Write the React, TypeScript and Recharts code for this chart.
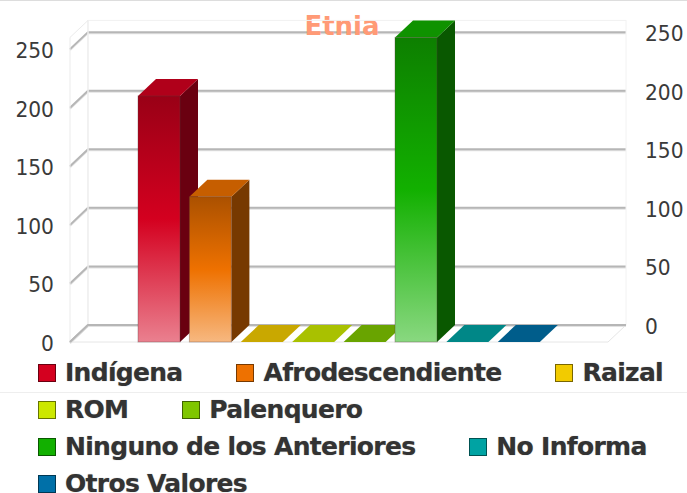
import { ComposedChart, Bar, Line, XAxis, YAxis, CartesianGrid, Legend, ReferenceArea } from 'recharts';

const CATEGORY = 'Etnia';
const SERIES_NAMES = ['Indígena', 'Afrodescendiente', 'Raizal', 'ROM', 'Palenquero', 'Ninguno de los Anteriores', 'No Informa', 'Otros Valores'];
const SERIES_VALUES = [210, 124, 0, 0, 0, 260, 0, 0];
const SERIES_COLORS = ['#d4001f', '#ee7100', '#f2cb00', '#cce800', '#7fc600', '#12b000', '#00a3a3', '#0070a8'];
const TICKS = [0, 50, 100, 150, 200, 250];

const DEPTH_X = 18;
const DEPTH_Y = 17;
const FONT = '"DejaVu Sans", Verdana, sans-serif';

const row: Record<string, string | number> = { name: CATEGORY };
SERIES_NAMES.forEach((name, i) => {
  row[name] = SERIES_VALUES[i];
});
const chartData = [row];

// mix a hex colour towards black (amount < 1) or white (amount > 1)
function shade(hex: string, amount: number) {
  const parts = [1, 3, 5].map((i) => parseInt(hex.slice(i, i + 2), 16));
  const out = parts.map((c) => Math.round(amount <= 1 ? c * amount : c + (255 - c) * (amount - 1)));
  return `rgb(${out[0]},${out[1]},${out[2]})`;
}

function Box3D(props: any) {
  const { x, y, width, height, fill, index } = props;
  const id = `front-${fill.slice(1)}-${index ?? 0}`;
  const right = x + width;
  const bottom = y + height;
  return (
    <g>
      <defs>
        <linearGradient id={id} x1="0" y1="0" x2="0" y2="1">
          <stop offset="0%" stopColor={shade(fill, 0.72)} />
          <stop offset="50%" stopColor={fill} />
          <stop offset="100%" stopColor={shade(fill, 1.5)} />
        </linearGradient>
      </defs>
      {height > 0 && (
        <polygon
          points={`${right},${y} ${right + DEPTH_X},${y - DEPTH_Y} ${right + DEPTH_X},${bottom - DEPTH_Y} ${right},${bottom}`}
          fill={shade(fill, 0.5)}
        />
      )}
      <polygon
        points={`${x},${y} ${x + DEPTH_X},${y - DEPTH_Y} ${right + DEPTH_X},${y - DEPTH_Y} ${right},${y}`}
        fill={shade(fill, 0.83)}
      />
      {height > 0 && (
        <rect x={x} y={y} width={width} height={height} fill={`url(#${id})`} stroke="rgba(90,60,60,0.35)" />
      )}
    </g>
  );
}

function Frame(props: any) {
  const { x, y, width, height } = props;
  const right = x + width;
  const bottom = y + height;
  const floorLine = `${x},${bottom} ${x + DEPTH_X},${bottom - DEPTH_Y} ${right + DEPTH_X},${bottom - DEPTH_Y}`;
  return (
    <g fill="none">
      <rect x={x + DEPTH_X} y={y - DEPTH_Y} width={width} height={height} stroke="#f2f2f2" />
      <polygon
        points={`${x},${y} ${x + DEPTH_X},${y - DEPTH_Y} ${x + DEPTH_X},${bottom - DEPTH_Y} ${x},${bottom}`}
        stroke="#ebebeb"
      />
      <polygon
        points={`${x},${bottom} ${x + DEPTH_X},${bottom - DEPTH_Y} ${right + DEPTH_X},${bottom - DEPTH_Y} ${right},${bottom}`}
        stroke="#e6e6e6"
      />
      {/* the grid leaves out the zero line, so it is drawn with the floor */}
      <polyline points={floorLine} stroke="#e2e2e2" strokeWidth={2} transform="translate(0,1)" />
      <polyline points={floorLine} stroke="#b6b6b6" strokeWidth={2} />
    </g>
  );
}

function GridLine(props: any) {
  const { x1, x2, y1 } = props;
  // the grid also hands us the top edge of the plot, which is not a tick
  if (y1 < 30) return null;
  const points = `${x1},${y1} ${x1 + DEPTH_X},${y1 - DEPTH_Y} ${x2 + DEPTH_X},${y1 - DEPTH_Y}`;
  return (
    <g fill="none">
      <polyline points={points} stroke="#e2e2e2" strokeWidth={2} transform="translate(0,1)" />
      <polyline points={points} stroke="#b6b6b6" strokeWidth={2} />
    </g>
  );
}

// the reference's digits are a little taller than they are wide
function tickText(x: number, y: number, anchor: string, value: number) {
  return (
    <text
      transform={`translate(${x},${y + 9}) scale(0.92,1)`}
      textAnchor={anchor}
      fontSize={22}
      fontFamily={FONT}
      fill="#3a3a3a"
    >
      {value}
    </text>
  );
}

function LeftTick(props: any) {
  return tickText(props.x, props.y, 'end', props.payload.value);
}

function RightTick(props: any) {
  return tickText(props.x, props.y - DEPTH_Y, 'start', props.payload.value);
}

function LegendContent(props: any) {
  // the helper line on the right axis stays out of the legend
  const items = (props.payload || []).filter((item: any) => item.type !== 'none');
  return (
    <div
      style={{
        height: 151,
        boxSizing: 'border-box',
        paddingTop: 12,
        paddingLeft: 38,
        display: 'flex',
        flexWrap: 'wrap',
        alignContent: 'flex-start',
        columnGap: 54,
        fontFamily: FONT,
        fontWeight: 'bold',
        fontSize: 25,
        letterSpacing: -0.7,
        color: '#333',
        textShadow: '0 0 1px #999',
      }}
    >
      {items.map((item: any) => (
        <div key={item.value} style={{ display: 'flex', alignItems: 'center', height: 37, whiteSpace: 'nowrap' }}>
          <span
            style={{
              display: 'inline-block',
              width: 16,
              height: 16,
              marginRight: 9,
              background: item.color,
              border: `1px solid ${shade(item.color, 0.5)}`,
            }}
          />
          {item.value}
        </div>
      ))}
    </div>
  );
}

export default function App() {
  return (
    <div style={{ position: 'relative', width: 687, height: 493, overflow: 'hidden', background: '#fff' }}>
      <style>{'body{margin:0}'}</style>
      <div style={{ position: 'absolute', left: 0, right: 0, top: 0, borderTop: '1px solid #ddd' }} />
      <div style={{ position: 'absolute', left: 0, right: 0, top: 392, borderTop: '1px solid #eee' }} />
      <ComposedChart
        width={687}
        height={493}
        data={chartData}
        barSize={42}
        barGap={9.4}
        margin={{ top: 14, right: 0, bottom: 0, left: 0 }}
      >
        <XAxis dataKey="name" hide />
        <YAxis
          yAxisId="left"
          orientation="left"
          width={70}
          domain={[0, 280]}
          ticks={TICKS}
          axisLine={false}
          tickLine={false}
          tickMargin={10}
          tick={LeftTick}
          interval={0}
        />
        <YAxis
          yAxisId="right"
          orientation="right"
          width={79}
          domain={[0, 280]}
          ticks={TICKS}
          axisLine={false}
          tickLine={false}
          tickMargin={31}
          tick={RightTick}
          interval={0}
        />
        <ReferenceArea yAxisId="left" y1={0} y2={260} shape={Frame} ifOverflow="visible" />
        <CartesianGrid yAxisId="left" vertical={false} horizontal={GridLine} />
        {SERIES_NAMES.map((name, i) => (
          <Bar
            key={name}
            yAxisId="left"
            dataKey={name}
            name={name}
            fill={SERIES_COLORS[i]}
            shape={Box3D}
            isAnimationActive={false}
          />
        ))}
        {/* keeps the right axis alive, it has no bars of its own */}
        <Line
          yAxisId="right"
          dataKey={SERIES_NAMES[0]}
          stroke="none"
          dot={false}
          legendType="none"
          isAnimationActive={false}
        />
        <Legend
          verticalAlign="bottom"
          align="left"
          itemSorter={null}
          content={LegendContent}
          wrapperStyle={{ left: 0, width: 687 }}
        />
        <text x={342} y={35} textAnchor="middle" fontSize={26} fontWeight="bold" fontFamily={FONT} fill="#ff9a76">
          {CATEGORY}
        </text>
      </ComposedChart>
    </div>
  );
}
